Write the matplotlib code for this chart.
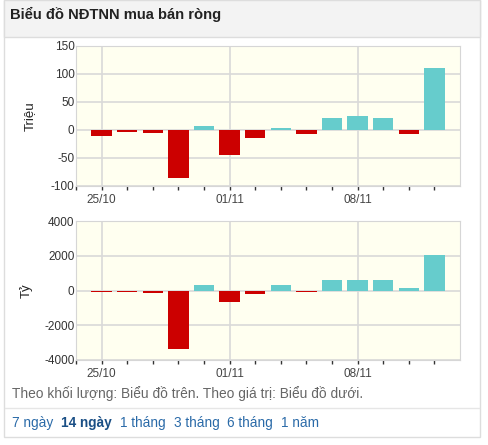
import matplotlib
matplotlib.use("Agg")
import matplotlib.pyplot as plt
from matplotlib.patches import Rectangle

plt.rcParams['font.family'] = ['Liberation Sans', 'DejaVu Sans']

# 14 trading days
dates = ["25/10", "26/10", "27/10", "28/10", "29/10",
         "01/11", "02/11", "03/11", "04/11", "05/11",
         "08/11", "09/11", "10/11", "11/11"]
shown_dates = ["25/10", "01/11", "08/11"]

# net volume (Triệu) and net value (Tỷ)
volume = [-10, -3, -5, -86, 8, -45, -15, 3, -8, 21, 25, 21, -8, 110]
value = [-80, -80, -120, -3380, 300, -690, -200, 320, -70, 610, 610, 610, 170, 2020]

W, H = 488, 445
RED = "#cc0000"
CYAN = "#66cccc"

fig = plt.figure(figsize=(W / 100, H / 100), dpi=100)

def box(x0, y0, x1, y1):
    # pixel box (top-left origin) -> figure fraction
    return [x0 / W, 1 - y1 / H, (x1 - x0) / W, (y1 - y0) / H]

# panel frame and header
fig.patches.append(Rectangle((4 / W, 1 - 437 / H), 476 / W, 437 / H,
                             transform=fig.transFigure, facecolor="white",
                             edgecolor="#dddddd", lw=1, zorder=-2))
fig.patches.append(Rectangle((4 / W, 1 - 37 / H), 476 / W, 37 / H,
                             transform=fig.transFigure, facecolor="#f3f3f3",
                             edgecolor="#dddddd", lw=1, zorder=-1))
fig.text(10 / W, 1 - 14 / H, "Biểu đồ NĐTNN mua bán ròng", fontsize=10.6,
         fontweight="bold", color="#222222", va="center")


def draw(ax, vals, ylim, yticks, ylabel, label_x):
    x = list(range(len(vals)))
    colors = [CYAN if v >= 0 else RED for v in vals]
    ax.set_facecolor("#fffff0")
    ax.bar(x, vals, width=0.8, color=colors, edgecolor="none", zorder=3)
    ax.set_xlim(-1, 14)
    ax.set_ylim(*ylim)
    ax.set_yticks(yticks)
    ax.set_yticklabels([str(t) for t in yticks])
    ax.set_xticks(range(-1, len(vals)))
    ax.set_xticklabels([""] + [d if d in shown_dates else "" for d in dates])
    ax.tick_params(axis="x", length=3, width=1, color="#333333", pad=3,
                   labelsize=8.5, labelcolor="#444444")
    ax.tick_params(axis="y", length=0, pad=1, labelsize=8.5, labelcolor="#333333")
    ax.yaxis.grid(True, color="#d9d9d9", lw=1.2, zorder=1)
    for d in shown_dates:
        ax.axvline(dates.index(d), color="#d9d9d9", lw=1.2, zorder=1)
    for s in ax.spines.values():
        s.set_color("#d6d6d6")
    ax.set_ylabel(ylabel, fontsize=9.5, color="#222222")
    ax.yaxis.set_label_coords(label_x, 0.5)


ax1 = fig.add_axes(box(76, 46, 460, 186))
draw(ax1, volume, (-100, 150), [-100, -50, 0, 50, 100, 150], "Triệu", -0.104)

ax2 = fig.add_axes(box(76, 221, 460, 360))
draw(ax2, value, (-4000, 4000), [-4000, -2000, 0, 2000, 4000], "Tỷ", -0.112)

fig.text(12 / W, 1 - 394 / H,
         "Theo khối lượng: Biểu đồ trên. Theo giá trị: Biểu đồ dưới.",
         fontsize=9.9, color="#666666", va="center")
fig.add_artist(plt.Line2D([5 / W, 479 / W], [1 - 408 / H, 1 - 408 / H],
                          transform=fig.transFigure, color="#e6e6e6", lw=1))

links = [("7 ngày", False), ("14 ngày", True), ("1 tháng", False),
         ("3 tháng", False), ("6 tháng", False), ("1 năm", False)]
xpos = 12
r = fig.canvas.get_renderer()
for txt, bold in links:
    t = fig.text(xpos / W, 1 - 423 / H, txt, fontsize=9.8,
                 fontweight="bold" if bold else "normal",
                 color="#1a4f85" if bold else "#2a6aa8", va="center")
    xpos += t.get_window_extent(r).width + 8

fig.savefig("out.png", dpi=100)
